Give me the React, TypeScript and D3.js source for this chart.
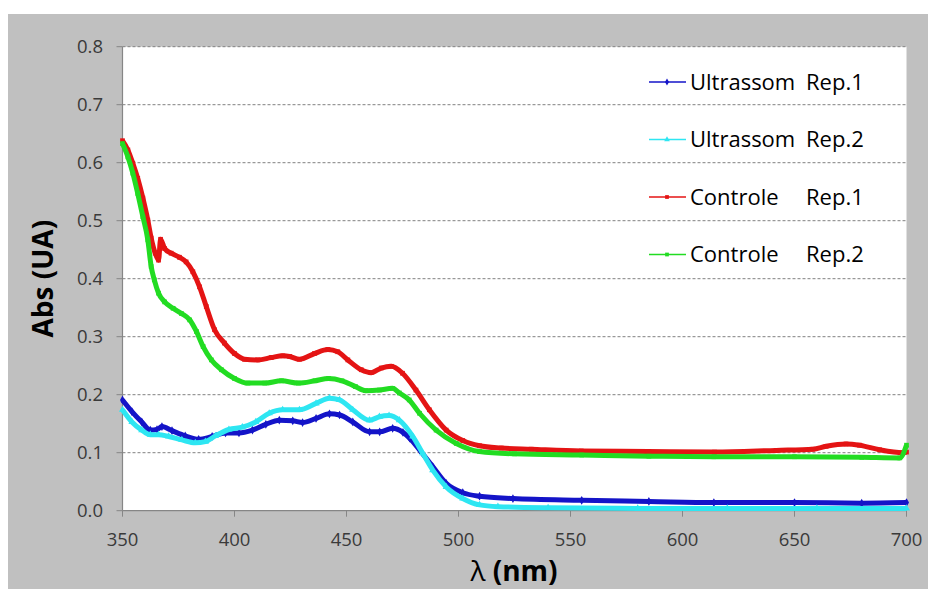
import React from "react";
import * as d3 from "d3";

const xTicks = [350, 400, 450, 500, 550, 600, 650, 700];
const yTicks = [0, 0.1, 0.2, 0.3, 0.4, 0.5, 0.6, 0.7, 0.8];

const legendNames = ["Ultrassom", "Ultrassom", "Controle", "Controle"];
const legendReps = ["Rep.1", "Rep.2", "Rep.1", "Rep.2"];

const blueWl = [350, 354.2, 358.6, 362.4, 365.4, 367.6, 372.1, 378, 384, 390, 396, 402, 408, 414, 420, 426, 430.4, 436.4, 442.4, 446.9, 452.8, 460.3, 464.8, 470.6, 475.2, 478.2, 482.6, 488.5, 494.5, 501.9, 509.4, 524.3, 555, 585, 614, 650, 680, 700];
const blueAbs = [0.191, 0.171, 0.153, 0.139, 0.14, 0.145, 0.138, 0.129, 0.123, 0.128, 0.134, 0.134, 0.139, 0.149, 0.156, 0.155, 0.152, 0.159, 0.167, 0.165, 0.153, 0.136, 0.136, 0.142, 0.135, 0.125, 0.105, 0.076, 0.047, 0.031, 0.025, 0.021, 0.018, 0.016, 0.014, 0.014, 0.013, 0.014];

const cyanWl = [350, 354.2, 358.6, 362.4, 366.1, 370.6, 376.5, 382.5, 387, 391.5, 397.5, 403.5, 409.5, 415.5, 421.5, 429, 436.4, 442.4, 446.9, 452.8, 460.3, 464.7, 469, 473.6, 479.6, 484, 488.5, 494.5, 501.9, 509.4, 517.6, 540, 580, 620, 660, 700];
const cyanAbs = [0.174, 0.153, 0.139, 0.131, 0.131, 0.128, 0.122, 0.117, 0.119, 0.129, 0.14, 0.144, 0.153, 0.168, 0.174, 0.174, 0.185, 0.194, 0.191, 0.174, 0.156, 0.162, 0.164, 0.156, 0.128, 0.099, 0.07, 0.041, 0.021, 0.01, 0.007, 0.005, 0.004, 0.004, 0.004, 0.004];

const redWl = [350, 352.4, 354.6, 356.8, 359.1, 361.3, 362.8, 364.6, 366.1, 367, 368.8, 371.7, 375.4, 378.4, 381.4, 384.4, 387.4, 391.1, 395.5, 400, 404.5, 410.4, 416.4, 421.6, 424.6, 429, 435.7, 441.7, 446.1, 450.6, 456.6, 461, 465.5, 470, 475, 481, 487, 494.5, 501.9, 509.4, 519.1, 532.5, 554.8, 584.6, 614.3, 641.8, 658.2, 664.1, 673, 679, 688, 698.4, 700];
const redAbs = [0.638, 0.622, 0.599, 0.573, 0.539, 0.501, 0.47, 0.444, 0.432, 0.468, 0.452, 0.444, 0.437, 0.429, 0.412, 0.386, 0.352, 0.312, 0.289, 0.271, 0.261, 0.26, 0.264, 0.267, 0.266, 0.261, 0.271, 0.278, 0.274, 0.26, 0.243, 0.238, 0.246, 0.249, 0.237, 0.208, 0.174, 0.139, 0.121, 0.112, 0.108, 0.106, 0.103, 0.102, 0.101, 0.104, 0.106, 0.111, 0.115, 0.113, 0.105, 0.1, 0.101];

const greenWl = [350, 352.4, 354.6, 356.8, 359.1, 361.3, 362.8, 364.2, 366.1, 368.8, 372.6, 376.3, 380, 383, 386, 389.7, 394.2, 400, 406, 413.5, 421, 428.5, 436, 442, 448, 454, 458.5, 464.7, 470.5, 473.6, 478, 482.6, 490, 499, 509.4, 525, 555, 585, 614, 650, 680, 697, 700];
const greenAbs = [0.633, 0.61, 0.582, 0.547, 0.507, 0.467, 0.421, 0.398, 0.375, 0.36, 0.349, 0.34, 0.329, 0.309, 0.283, 0.26, 0.243, 0.228, 0.22, 0.22, 0.224, 0.22, 0.224, 0.228, 0.224, 0.214, 0.207, 0.208, 0.211, 0.203, 0.191, 0.168, 0.139, 0.116, 0.102, 0.098, 0.096, 0.094, 0.093, 0.093, 0.092, 0.091, 0.113];

const series = [
  { wl: blueWl, abs: blueAbs, color: "#1414c8", marker: "diamond" },
  { wl: cyanWl, abs: cyanAbs, color: "#2ee6f2", marker: "triangle" },
  { wl: redWl, abs: redAbs, color: "#e41414", marker: "square" },
  { wl: greenWl, abs: greenAbs, color: "#22dc22", marker: "square" },
];

const W = 928;
const H = 589;
const x = d3.scaleLinear().domain([350, 700]).range([122.5, 906.5]);
const y = d3.scaleLinear().domain([0, 0.8]).range([510.7, 46.7]);

const font = "'Open Sans', sans-serif";

function markerPath(kind: string, s: number) {
  const sym = kind === "diamond" ? d3.symbolDiamond : kind === "triangle" ? d3.symbolTriangle : d3.symbolSquare;
  return d3.symbol().type(sym).size(s)() as string;
}

export default function App() {
  const line = d3
    .line<[number, number]>()
    .x((d) => x(d[0]))
    .y((d) => y(d[1]))
    .curve(d3.curveMonotoneX);

  const legendY = [82, 139.5, 197, 254.5];

  return (
    <svg width={W} height={H} style={{ position: "absolute", left: 0, top: 0 }}>
      <rect x={0} y={0} width={W} height={H} fill="#ffffff" />
      <rect x={8} y={14} width={W - 8} height={H - 14} fill="#c0c0c0" />
      <rect x={x(350)} y={y(0.8)} width={x(700) - x(350)} height={y(0) - y(0.8)} fill="#ffffff" />
      {yTicks.slice(1).map((t) => (
        <line key={"g" + t} x1={x(350)} x2={x(700)} y1={y(t)} y2={y(t)} stroke="#808080" strokeWidth={1} strokeDasharray="3,2" />
      ))}
      {/* axes */}
      <line x1={x(350)} x2={x(350)} y1={y(0.8)} y2={y(0)} stroke="#868686" strokeWidth={1.2} />
      <line x1={x(350)} x2={x(700)} y1={y(0)} y2={y(0)} stroke="#868686" strokeWidth={1.2} />
      {yTicks.map((t) => (
        <g key={"yt" + t}>
          <line x1={x(350) - 6} x2={x(350)} y1={y(t)} y2={y(t)} stroke="#868686" strokeWidth={1} />
          <text x={103} y={y(t)} dy="0.36em" textAnchor="end" fontFamily={font} fontSize={18.5} fill="#3a3a3a">
            {t.toFixed(1)}
          </text>
        </g>
      ))}
      {xTicks.map((t) => (
        <g key={"xt" + t}>
          <line x1={x(t)} x2={x(t)} y1={y(0)} y2={y(0) + 6} stroke="#868686" strokeWidth={1} />
          <text x={x(t)} y={546} textAnchor="middle" fontFamily={font} fontSize={18.5} fill="#3a3a3a">
            {t}
          </text>
        </g>
      ))}
      {/* series */}
      {series.map((s, i) => {
        const pts = s.wl.map((w, j) => [w, s.abs[j]] as [number, number]);
        return (
          <g key={"s" + i}>
            <path d={line(pts) as string} fill="none" stroke={s.color} strokeWidth={5} strokeLinejoin="round" />
            {pts.map((p, j) => (
              <path key={j} d={markerPath(s.marker, 22)} transform={`translate(${x(p[0])},${y(p[1])})`} fill={s.color} />
            ))}
          </g>
        );
      })}
      {/* legend */}
      {series.map((s, i) => (
        <g key={"l" + i}>
          <line x1={649} x2={686} y1={legendY[i]} y2={legendY[i]} stroke={s.color} strokeWidth={1.3} />
          <path d={markerPath(s.marker, 14)} transform={`translate(667,${legendY[i]})`} fill={s.color} />
          <text x={690} y={legendY[i]} dy="0.36em" fontFamily={font} fontSize={22} fontWeight={500} fill="#000">
            <tspan>{legendNames[i] + " "}</tspan>
            <tspan x={806}>{legendReps[i]}</tspan>
          </text>
        </g>
      ))}
      {/* titles */}
      <text x={514} y={581} textAnchor="middle" fontFamily={font} fontSize={28} fontWeight={700} fill="#000">
        <tspan fontWeight={400}>λ</tspan> (nm)
      </text>
      <text transform={`translate(53,${(y(0) + y(0.8)) / 2}) rotate(-90)`} textAnchor="middle" fontFamily={font} fontSize={28} fontWeight={700} fill="#000">
        Abs (UA)
      </text>
    </svg>
  );
}
